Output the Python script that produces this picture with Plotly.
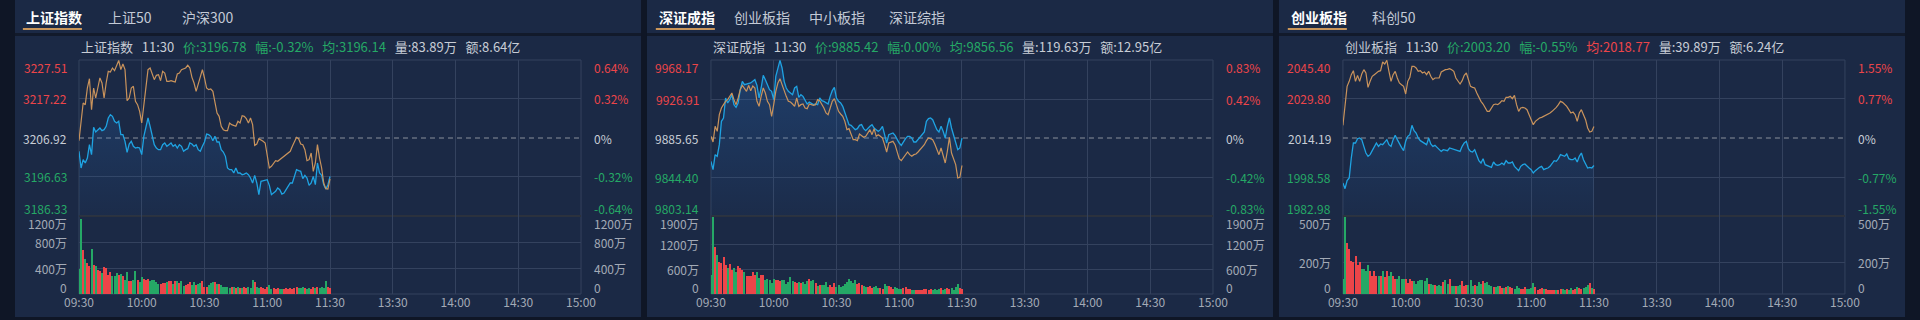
import plotly.graph_objects as go

W, H = 1920, 320

# ---------------- data ----------------
TIME_TICKS = [0, 30, 60, 90, 120, 150, 180, 210, 240]
TIME_LABELS = ["09:30", "10:00", "10:30", "11:00", "11:30", "13:30", "14:00", "14:30", "15:00"]
MINUTES = list(range(121))

sh_tabs = ["上证指数", "上证50", "沪深300"]
sh_info = ["上证指数", "11:30", "3196.78", "-0.32%", "3196.14", "83.89万", "8.64亿"]
sh_levels = [3186.33, 3196.63, 3206.92, 3217.22, 3227.51]
sh_pct = ["-0.64%", "-0.32%", "0%", "0.32%", "0.64%"]
sh_vol_ticks = [0, 400, 800, 1200]
sh_price = [
    3203.40, 3199.00, 3201.20, 3200.32, 3201.64, 3205.16, 3202.52, 3209.73, 3208.50, 3209.12,
    3209.56, 3208.85, 3209.12, 3210.00, 3212.20, 3213.08, 3212.64, 3211.32, 3210.88, 3211.32,
    3207.80, 3207.80, 3206.04, 3203.13, 3205.33, 3206.04, 3204.72, 3204.28, 3204.45, 3204.28,
    3202.52, 3207.36, 3210.00, 3212.20, 3210.00, 3207.36, 3205.16, 3204.28, 3203.84, 3203.84,
    3205.16, 3205.60, 3204.72, 3205.16, 3205.60, 3204.72, 3205.16, 3204.28, 3205.16, 3204.72,
    3203.40, 3203.84, 3204.10, 3205.60, 3205.33, 3204.72, 3205.16, 3203.84, 3203.40, 3204.72,
    3205.86, 3207.97, 3207.80, 3207.36, 3206.21, 3207.36, 3205.86, 3205.86, 3203.84, 3203.22,
    3202.08, 3199.00, 3198.56, 3198.56, 3197.68, 3199.00, 3197.68, 3197.68, 3197.24, 3197.41,
    3197.68, 3197.24, 3196.36, 3195.04, 3197.06, 3195.04, 3191.96, 3195.48, 3195.65, 3195.92,
    3195.92, 3194.42, 3191.96, 3192.40, 3192.84, 3193.72, 3193.28, 3192.13, 3192.40, 3193.28,
    3194.16, 3195.04, 3195.04, 3196.53, 3198.56, 3198.29, 3198.12, 3196.18, 3197.06, 3196.36,
    3194.42, 3195.04, 3196.80, 3194.60, 3200.32, 3197.68, 3197.06, 3194.60, 3193.45, 3194.60,
    3196.78]
sh_avg = [
    3206.21, 3211.32, 3216.16, 3215.72, 3220.12, 3222.58, 3214.40, 3220.12, 3217.48, 3220.12,
    3222.76, 3221.44, 3217.48, 3221.44, 3224.52, 3224.34, 3225.40, 3224.69, 3226.28, 3227.40,
    3224.96, 3226.45, 3224.96, 3216.77, 3217.48, 3220.12, 3220.56, 3216.60, 3215.72, 3213.96,
    3210.88, 3215.72, 3219.24, 3224.96, 3225.40, 3224.08, 3222.32, 3223.46, 3223.64, 3222.05,
    3224.52, 3224.08, 3221.88, 3221.88, 3222.05, 3221.88, 3221.70, 3223.81, 3224.08, 3224.96,
    3225.22, 3225.40, 3226.10, 3225.40, 3222.93, 3221.44, 3219.24, 3221.00, 3222.76, 3224.96,
    3222.76, 3220.12, 3219.68, 3219.85, 3219.24, 3216.60, 3213.52, 3212.64, 3210.00, 3209.12,
    3208.85, 3208.85, 3210.88, 3210.44, 3210.26, 3210.00, 3211.32, 3210.88, 3212.81, 3212.64,
    3212.02, 3210.88, 3212.20, 3210.44, 3204.98, 3205.33, 3206.74, 3206.48, 3206.04, 3205.60,
    3201.64, 3199.00, 3199.44, 3200.32, 3200.93, 3200.76, 3201.20, 3201.64, 3202.08, 3202.69,
    3203.13, 3203.40, 3204.72, 3206.04, 3207.09, 3206.74, 3205.33, 3205.16, 3203.84, 3200.93,
    3201.20, 3202.96, 3198.12, 3200.32, 3205.16, 3201.64, 3199.00, 3195.04, 3193.54, 3193.45,
    3196.14]
sh_vol = [
    380, 1150, 680, 535, 475, 435, 695, 450, 425, 370,
    360, 330, 415, 400, 295, 345, 270, 280, 320, 295,
    310, 270, 220, 345, 205, 205, 220, 355, 210, 180,
    255, 235, 220, 230, 205, 220, 210, 180, 160, 160,
    170, 170, 185, 195, 195, 160, 195, 205, 170, 195,
    130, 145, 160, 185, 145, 180, 145, 160, 170, 195,
    105, 105, 145, 170, 180, 190, 160, 155, 145, 115,
    105, 105, 100, 105, 105, 90, 105, 100, 90, 105,
    90, 105, 100, 220, 180, 105, 90, 105, 90, 75,
    105, 145, 75, 90, 80, 85, 80, 80, 75, 85,
    80, 85, 80, 85, 105, 85, 90, 105, 90, 80,
    85, 80, 115, 100, 105, 90, 105, 90, 205, 105,
    90]

sz_tabs = ["深证成指", "创业板指", "中小板指", "深证综指"]
sz_info = ["深证成指", "11:30", "9885.42", "0.00%", "9856.56", "119.63万", "12.95亿"]
sz_levels = [9803.14, 9844.40, 9885.65, 9926.91, 9968.17]
sz_pct = ["-0.83%", "-0.42%", "0%", "0.42%", "0.83%"]
sz_vol_ticks = [0, 600, 1200, 1900]
sz_price = [
    9860.98, 9852.16, 9868.03, 9866.27, 9878.61, 9903.29, 9906.82, 9927.97, 9922.68, 9926.21,
    9931.50, 9920.92, 9918.10, 9922.68, 9936.79, 9945.60, 9942.08, 9942.78, 9942.78, 9943.84,
    9945.60, 9947.37, 9941.37, 9927.97, 9938.55, 9951.95, 9947.37, 9942.08, 9936.79, 9935.03,
    9926.21, 9950.89, 9959.71, 9967.80, 9959.71, 9945.60, 9938.55, 9935.03, 9933.26, 9931.50,
    9938.55, 9940.31, 9928.68, 9931.50, 9929.74, 9926.21, 9921.63, 9923.74, 9922.68, 9920.92,
    9921.63, 9920.92, 9927.97, 9925.15, 9924.45, 9922.68, 9921.63, 9929.74, 9935.73, 9939.26,
    9927.97, 9924.45, 9922.68, 9919.16, 9912.11, 9905.05, 9899.77, 9899.06, 9896.94, 9894.48,
    9895.53, 9899.06, 9899.77, 9895.53, 9893.42, 9896.24, 9898.00, 9899.77, 9896.24, 9894.48,
    9892.71, 9894.48, 9898.00, 9889.19, 9880.37, 9889.19, 9889.89, 9890.95, 9888.48, 9883.90,
    9880.37, 9877.90, 9882.14, 9884.96, 9887.42, 9887.42, 9885.66, 9881.43, 9881.43, 9883.90,
    9887.42, 9889.89, 9892.01, 9903.29, 9906.11, 9906.82, 9905.05, 9899.77, 9894.48, 9892.01,
    9898.00, 9892.71, 9885.66, 9898.00, 9906.82, 9896.24, 9889.19, 9882.14, 9873.32, 9875.08,
    9885.42]
sz_avg = [
    9887.42, 9881.43, 9898.00, 9892.71, 9910.34, 9917.40, 9920.92, 9924.45, 9926.21, 9929.74,
    9933.26, 9926.21, 9920.92, 9927.97, 9936.79, 9941.37, 9938.55, 9935.03, 9941.37, 9935.73,
    9940.67, 9938.55, 9924.45, 9919.16, 9929.74, 9938.55, 9933.26, 9924.45, 9920.92, 9908.58,
    9920.92, 9935.03, 9943.84, 9948.42, 9942.08, 9935.03, 9929.74, 9924.45, 9923.74, 9921.63,
    9919.16, 9927.97, 9919.16, 9920.92, 9921.63, 9917.40, 9916.69, 9921.63, 9920.92, 9920.22,
    9920.92, 9926.21, 9925.15, 9921.63, 9917.40, 9912.11, 9910.34, 9917.40, 9924.45, 9927.27,
    9920.92, 9913.87, 9911.05, 9908.58, 9903.29, 9894.48, 9895.53, 9889.19, 9883.90, 9883.90,
    9882.84, 9889.89, 9888.48, 9886.37, 9887.42, 9890.95, 9894.48, 9889.19, 9895.53, 9887.42,
    9889.19, 9887.42, 9885.66, 9878.61, 9870.85, 9880.37, 9881.43, 9882.14, 9878.61, 9871.56,
    9863.80, 9861.68, 9864.51, 9868.03, 9870.85, 9868.03, 9866.27, 9868.03, 9868.74, 9870.85,
    9873.32, 9875.79, 9878.61, 9882.84, 9885.66, 9884.96, 9883.90, 9879.31, 9873.32, 9868.03,
    9875.08, 9868.03, 9859.22, 9871.56, 9886.37, 9869.79, 9864.51, 9857.45, 9843.35, 9844.05,
    9856.56]
sz_vol = [
    470, 1870, 1155, 955, 770, 750, 890, 710, 645, 735,
    590, 625, 525, 670, 645, 590, 525, 445, 430, 430,
    525, 470, 525, 390, 470, 470, 350, 365, 350, 265,
    365, 350, 350, 305, 350, 330, 250, 290, 410, 305,
    285, 265, 285, 265, 285, 250, 305, 365, 305, 330,
    265, 200, 210, 210, 225, 285, 170, 225, 170, 265,
    170, 225, 170, 200, 250, 285, 365, 305, 265, 330,
    250, 265, 225, 200, 170, 170, 185, 145, 170, 200,
    145, 145, 120, 250, 200, 185, 170, 120, 170, 145,
    120, 120, 145, 170, 120, 120, 105, 105, 105, 90,
    105, 105, 120, 120, 105, 120, 105, 120, 90, 120,
    145, 105, 120, 145, 120, 145, 105, 170, 250, 145,
    130]

cy_tabs = ["创业板指", "科创50"]
cy_info = ["创业板指", "11:30", "2003.20", "-0.55%", "2018.77", "39.89万", "6.24亿"]
cy_levels = [1982.98, 1998.58, 2014.19, 2029.80, 2045.40]
cy_pct = ["-1.55%", "-0.77%", "0%", "0.77%", "1.55%"]
cy_vol_ticks = [0, 200, 500]
cy_price = [
    1996.18, 1993.92, 1997.12, 1998.18, 2006.19, 2012.19, 2012.19, 2013.92, 2014.19, 2013.52,
    2010.85, 2008.19, 2006.85, 2007.52, 2009.12, 2010.85, 2012.19, 2010.85, 2011.79, 2011.52,
    2012.59, 2013.52, 2011.52, 2010.85, 2013.52, 2015.26, 2013.52, 2011.79, 2010.45, 2009.12,
    2012.86, 2014.86, 2015.52, 2019.26, 2017.12, 2016.19, 2014.19, 2013.12, 2012.59, 2011.79,
    2011.52, 2014.19, 2011.79, 2010.85, 2011.25, 2010.45, 2009.52, 2008.85, 2009.52, 2009.39,
    2009.12, 2010.19, 2009.92, 2009.52, 2009.52, 2009.12, 2008.85, 2010.85, 2012.19, 2012.86,
    2009.92, 2008.85, 2008.59, 2009.52, 2007.52, 2005.12, 2004.19, 2005.92, 2003.52, 2003.12,
    2002.85, 2002.45, 2004.59, 2003.52, 2003.25, 2003.52, 2004.19, 2003.52, 2005.12, 2004.19,
    2004.19, 2004.59, 2002.85, 2002.18, 2001.12, 2002.85, 2003.52, 2003.79, 2002.85, 2002.18,
    2001.52, 2000.18, 2001.12, 2001.92, 2002.45, 2002.85, 2001.52, 2001.92, 2002.18, 2002.85,
    2004.19, 2005.12, 2004.85, 2005.92, 2007.52, 2007.25, 2006.85, 2007.79, 2005.92, 2005.52,
    2005.52, 2006.19, 2004.59, 2006.85, 2008.19, 2005.52, 2003.52, 2002.18, 2002.45, 2002.18,
    2003.20]
cy_avg = [
    2019.26, 2027.53, 2034.86, 2036.86, 2039.53, 2041.13, 2036.86, 2039.26, 2036.86, 2039.80,
    2041.53, 2040.20, 2034.46, 2036.86, 2038.86, 2039.53, 2040.20, 2040.87, 2041.13, 2044.60,
    2043.80, 2045.30, 2040.87, 2036.86, 2039.53, 2040.87, 2038.20, 2036.20, 2035.53, 2034.86,
    2031.80, 2036.86, 2038.46, 2042.87, 2042.87, 2042.20, 2040.87, 2041.13, 2040.20, 2040.60,
    2039.53, 2040.87, 2038.86, 2037.53, 2038.20, 2038.20, 2038.20, 2040.60, 2041.13, 2041.53,
    2041.67, 2041.93, 2041.53, 2040.87, 2038.20, 2036.86, 2035.80, 2037.13, 2039.26, 2040.20,
    2037.53, 2034.86, 2034.46, 2034.20, 2032.20, 2030.46, 2028.86, 2027.79, 2026.46, 2024.86,
    2024.86, 2026.46, 2027.53, 2027.79, 2027.53, 2028.19, 2029.13, 2028.86, 2030.46, 2030.46,
    2030.86, 2029.93, 2031.26, 2027.53, 2024.86, 2026.19, 2026.46, 2026.19, 2025.53, 2023.53,
    2021.52, 2019.52, 2020.86, 2021.52, 2022.19, 2022.46, 2022.86, 2023.26, 2023.79, 2024.19,
    2024.86, 2025.53, 2026.46, 2027.53, 2028.86, 2028.46, 2027.79, 2026.86, 2025.53, 2024.19,
    2024.59, 2023.53, 2020.86, 2024.19, 2025.53, 2023.79, 2021.52, 2018.19, 2016.59, 2016.86,
    2018.77]
cy_vol = [
    96, 495, 326, 289, 209, 202, 245, 187, 202, 160,
    160, 145, 187, 145, 117, 149, 113, 117, 113, 149,
    109, 145, 117, 138, 113, 98, 98, 113, 96, 96,
    96, 72, 96, 85, 81, 66, 81, 87, 87, 81,
    102, 66, 64, 60, 60, 53, 60, 53, 74, 92,
    66, 96, 53, 53, 53, 53, 60, 81, 53, 60,
    60, 87, 49, 60, 53, 74, 66, 85, 70, 74,
    60, 53, 45, 45, 53, 49, 38, 38, 45, 49,
    45, 38, 32, 53, 38, 32, 32, 45, 32, 32,
    38, 70, 45, 28, 32, 38, 32, 32, 28, 28,
    23, 28, 23, 28, 32, 32, 28, 32, 28, 38,
    28, 32, 45, 38, 32, 38, 45, 60, 70, 38,
    32]

# ---------------- styling / layout constants ----------------
FONT = "Noto Sans CJK SC"
BG_OUTER = "#0f1626"
BG_PANEL = "#1b2945"
SEP = "#121a2b"
GRID = "#34425e"
MIDLINE = "#2b313d"
BLUE = "#1fa3e2"
ORANGE = "#c9935c"
RED = "#ec4549"
GREEN = "#25a866"
TXT = "#c8cdd6"
TXT_DIM = "#a3aab6"
ACCENT = "#c8955a"

PANEL_LEFT = [0, 642, 1284]
PANEL_W = 636
PLOT_L, PLOT_R = 65, 575
P_TOP, P_BOT, V_BOT = 60, 216, 294
TAB_X = [[9, 92, 168], [10, 86, 163, 244], [10, 93]]

panels = [
    (sh_tabs, sh_info, sh_levels, sh_pct, sh_vol_ticks, sh_price, sh_avg, sh_vol),
    (sz_tabs, sz_info, sz_levels, sz_pct, sz_vol_ticks, sz_price, sz_avg, sz_vol),
    (cy_tabs, cy_info, cy_levels, cy_pct, cy_vol_ticks, cy_price, cy_avg, cy_vol),
]


def px(x):
    return x / W


def py(y):
    return 1 - y / H


fig = go.Figure()
shapes, annotations = [], []
layout_axes = {}

for i, (tabs, info, levels, pct, vticks, price, avg, vol) in enumerate(panels):
    L = PANEL_LEFT[i]
    kp, kv = 2 * i + 1, 2 * i + 2
    xp = "x" if kp == 1 else f"x{kp}"
    yp = "y" if kp == 1 else f"y{kp}"
    xv, yv = f"x{kv}", f"y{kv}"
    pre = levels[2]

    # panel background
    shapes.append(dict(type="rect", xref="paper", yref="paper", x0=px(L), x1=px(L + PANEL_W),
                       y0=py(317), y1=py(0), fillcolor=BG_PANEL, line_width=0, layer="below"))
    shapes.append(dict(type="rect", xref="paper", yref="paper", x0=px(L), x1=px(L + PANEL_W),
                       y0=py(36), y1=py(33), fillcolor=SEP, line_width=0, layer="below"))
    # active tab underline
    tx0 = L + TAB_X[i][0]
    shapes.append(dict(type="rect", xref="paper", yref="paper", x0=px(tx0 - 1), x1=px(tx0 + 59),
                       y0=py(30), y1=py(28), fillcolor=ACCENT, line_width=0, layer="below"))
    # plot frame
    shapes.append(dict(type="rect", xref="paper", yref="paper", x0=px(L + PLOT_L), x1=px(L + PLOT_R),
                       y0=py(V_BOT), y1=py(P_TOP), line=dict(color=GRID, width=1), layer="below"))
    shapes.append(dict(type="line", xref="paper", yref="paper", x0=px(L + PLOT_L), x1=px(L + PLOT_R),
                       y0=py(P_BOT), y1=py(P_BOT), line=dict(color=MIDLINE, width=2), layer="below"))
    # pre-close dashed line
    shapes.append(dict(type="line", xref=f"{xp} domain", yref=yp, x0=0, x1=1, y0=pre, y1=pre,
                       line=dict(color="#8b919c", width=1, dash="5px,4px"), layer="below"))

    # tabs
    for j, t in enumerate(tabs):
        annotations.append(dict(
            xref="paper", yref="paper", x=px(L + TAB_X[i][j]), y=py(17), xanchor="left", yanchor="middle",
            text=f"<b>{t}</b>" if j == 0 else t, showarrow=False,
            font=dict(family=FONT, size=14, color="#ffffff" if j == 0 else "#c3cad6")))

    # header line
    pc = RED if float(info[2]) > pre else GREEN
    ac = RED if float(info[4]) > pre else GREEN
    nb = "\u00a0\u00a0\u00a0"
    header = (f"<span style='color:{TXT}'>{info[0]}{nb}{info[1]}</span>{nb}"
              f"<span style='color:{pc}'>价:{info[2]}{nb}幅:{info[3]}</span>{nb}"
              f"<span style='color:{ac}'>均:{info[4]}</span>{nb}"
              f"<span style='color:{TXT}'>量:{info[5]}{nb}额:{info[6]}</span>")
    annotations.append(dict(xref="paper", yref="paper", x=px(L + PLOT_L), y=py(46), xanchor="left",
                            yanchor="middle", text=header, showarrow=False,
                            font=dict(family=FONT, size=13, color=TXT)))

    # price axis labels (left values, right percentages)
    for j, lv in enumerate(levels):
        col = GREEN if j < 2 else (TXT if j == 2 else RED)
        ys = 8 if j == 0 else (-7 if j == 4 else 0)
        annotations.append(dict(xref="paper", yref=yp, x=px(L + PLOT_L - 10), y=lv, xanchor="right",
                                yanchor="middle", yshift=ys, text=f"{lv:.2f}", showarrow=False,
                                font=dict(family=FONT, size=12, color=col)))
        annotations.append(dict(xref="paper", yref=yp, x=px(L + PLOT_R + 11), y=lv, xanchor="left",
                                yanchor="middle", yshift=ys, text=pct[j], showarrow=False,
                                font=dict(family=FONT, size=12, color=col)))
    # volume axis labels
    for j, vt in enumerate(vticks):
        ys = 7 if j == 0 else (-7 if j == len(vticks) - 1 else 0)
        lab = "0" if vt == 0 else f"{vt}万"
        for xx, anc in ((px(L + PLOT_L - 10), "right"), (px(L + PLOT_R + 11), "left")):
            annotations.append(dict(xref="paper", yref=yv, x=xx, y=vt, xanchor=anc, yanchor="middle",
                                    yshift=ys, text=lab, showarrow=False,
                                    font=dict(family=FONT, size=12, color=TXT_DIM)))

    # traces
    fig.add_trace(go.Scatter(
        x=MINUTES, y=price, mode="lines", line=dict(color=BLUE, width=1.3),
        fill="tozeroy",
        fillgradient=dict(type="vertical", start=levels[0], stop=levels[4],
                          colorscale=[[0, "rgba(40,110,190,0.04)"], [1, "rgba(40,110,190,0.32)"]]),
        xaxis=xp, yaxis=yp, hoverinfo="skip", showlegend=False))
    fig.add_trace(go.Scatter(
        x=MINUTES, y=avg, mode="lines", line=dict(color=ORANGE, width=1.2),
        xaxis=xp, yaxis=yp, hoverinfo="skip", showlegend=False))
    colors = []
    prev = pre
    for p in price:
        colors.append(RED if p >= prev else GREEN)
        prev = p
    fig.add_trace(go.Bar(
        x=MINUTES, y=vol, width=0.5, marker=dict(color=colors, line_width=0),
        xaxis=xv, yaxis=yv, hoverinfo="skip", showlegend=False))

    xdom = [px(L + PLOT_L), px(L + PLOT_R)]
    common_x = dict(domain=xdom, range=[0, 240], tickvals=TIME_TICKS, showgrid=True, gridcolor=GRID,
                    gridwidth=1, zeroline=False, showline=False, ticks="", fixedrange=True)
    layout_axes["xaxis" if kp == 1 else f"xaxis{kp}"] = dict(common_x, anchor=yp, showticklabels=False)
    layout_axes[f"xaxis{kv}"] = dict(common_x, anchor=yv, showticklabels=True, ticktext=TIME_LABELS,
                                     tickfont=dict(family=FONT, size=12, color=TXT_DIM))
    layout_axes["yaxis" if kp == 1 else f"yaxis{kp}"] = dict(
        domain=[py(P_BOT), py(P_TOP)], range=[levels[0], levels[4]], anchor=xp,
        tickvals=[levels[1], levels[3]], showgrid=True, gridcolor=GRID, zeroline=False,
        showticklabels=False, showline=False, fixedrange=True)
    layout_axes[f"yaxis{kv}"] = dict(
        domain=[py(V_BOT), py(P_BOT)], range=[0, vticks[-1]], anchor=xv,
        tickvals=vticks[1:-1], showgrid=True, gridcolor=GRID, zeroline=False,
        showticklabels=False, showline=False, fixedrange=True)

fig.update_layout(
    width=W, height=H, margin=dict(l=0, r=0, t=0, b=0),
    paper_bgcolor=BG_OUTER, plot_bgcolor="rgba(0,0,0,0)",
    shapes=shapes, annotations=annotations, bargap=0,
    font=dict(family=FONT, size=12, color=TXT),
    **layout_axes)

fig.write_html("out.html", config={"displayModeBar": False})
